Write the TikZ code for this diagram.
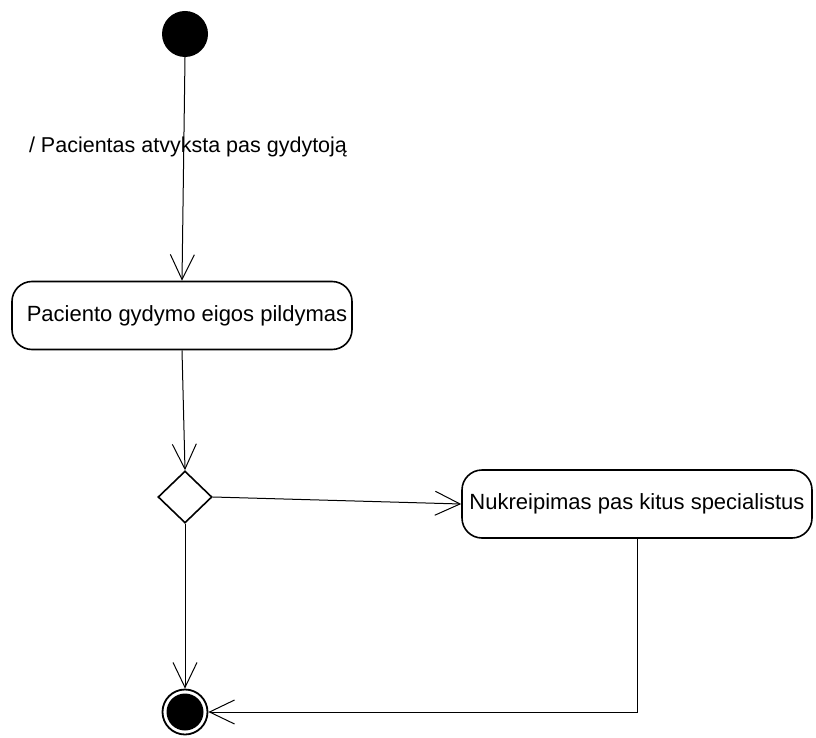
\documentclass[tikz,border=0pt]{standalone}
\usepackage{fontspec}
\setmainfont{Liberation Sans}
\usetikzlibrary{arrows.meta,shapes.geometric}
\begin{document}
\begin{tikzpicture}[x=1pt,y=-1pt,
  every node/.style={font=\fontsize{22}{26}\selectfont},
  action/.style={draw,line width=1.6pt,rounded corners=20pt,minimum height=68pt,inner sep=0pt},
  decision/.style={draw,diamond,line width=1.6pt,minimum width=54pt,minimum height=52pt,inner sep=0pt},
  flow/.style={line width=1pt,-{Straight Barb[length=25pt,width=24pt,line width=1pt]}}
]
\useasboundingbox (0,0) rectangle (816,738);
% start, activities, decision, end
\node[circle,fill=black,minimum size=46pt,inner sep=0pt] (init) at (185,34) {};
\node[action,minimum width=340pt] (fill) at (182,315.5) {\hspace*{10pt}Paciento gydymo eigos pildymas};
\node[decision] (dec) at (185,497) {};
\node[action,minimum width=350pt] (refer) at (637,504) {Nukreipimas pas kitus specialistus};
\node[circle,draw,line width=1.8pt,minimum size=45pt,inner sep=0pt] (fin) at (185,712) {};
\fill (fin.center) circle (18.5pt);
% transitions
\draw[flow] (init.south) -- (fill.north);
\node[font=\fontsize{21.5}{26}\selectfont] (lbl) at (188,147) {/ Pacientas atvyksta pas gydytoją};
\draw[flow] (fill.south) -- (dec.north);
\draw[flow] (dec.east) -- (refer.west);
\draw[flow] (dec.south) -- (fin.north);
\draw[flow] (refer.south) |- (fin.east);
\end{tikzpicture}
\end{document}
